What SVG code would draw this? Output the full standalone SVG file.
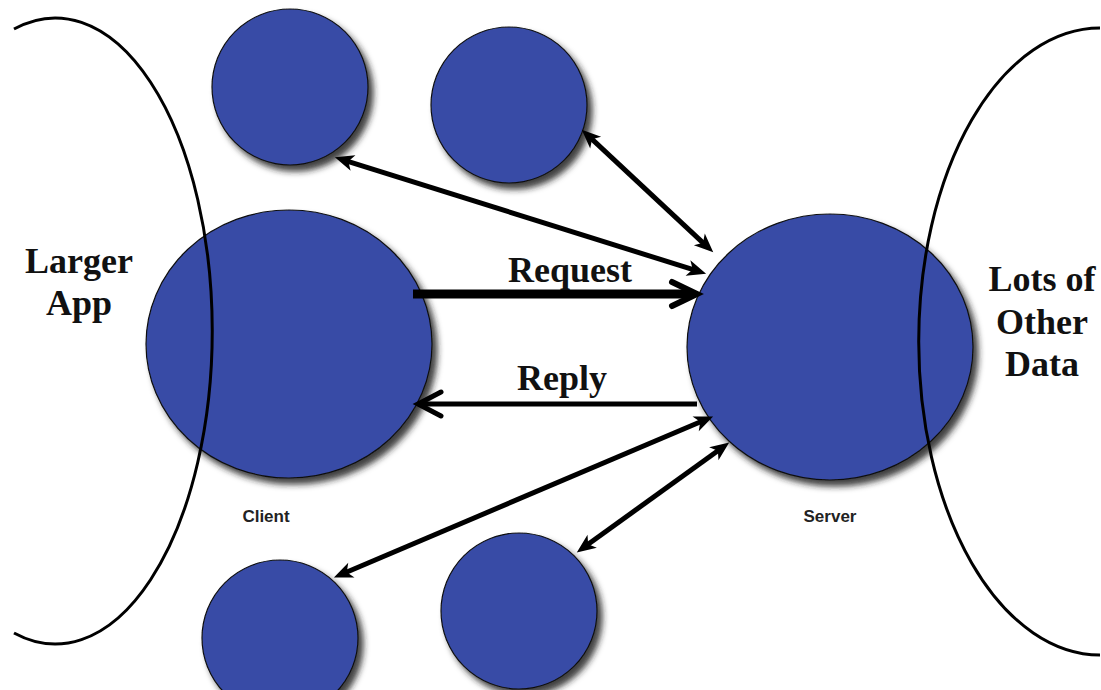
<svg xmlns="http://www.w3.org/2000/svg" width="1101" height="690" viewBox="0 0 1101 690">
  <style>
    .node { fill: #384ca6; stroke: #111; stroke-width: 1.2; filter: url(#shadow); }
    .bound { fill: none; stroke: #000; stroke-width: 3; }
    .big { font-family: "Liberation Serif", "Times New Roman", serif; font-weight: bold; font-size: 36px; fill: #111; text-anchor: middle; }
    .small { font-family: "Liberation Sans", Arial, sans-serif; font-weight: bold; font-size: 17px; fill: #222; text-anchor: middle; }
    .link { stroke: #000; stroke-width: 5; fill: none; }
  </style>
  <defs>
    <filter id="shadow" x="-20%" y="-20%" width="150%" height="150%">
      <feDropShadow dx="5" dy="6" stdDeviation="3" flood-color="#1e1e1e" flood-opacity="0.85"/>
    </filter>
    <!-- filled stealth head used by the two-way links -->
    <marker id="head" markerUnits="userSpaceOnUse" markerWidth="24" markerHeight="18" refX="8" refY="8" orient="auto-start-reverse" overflow="visible">
      <path d="M0,0 L19,8 L0,16 L5,8 z" fill="#000"/>
    </marker>
    <!-- open chevron heads for request / reply -->
    <marker id="chevBig" markerUnits="userSpaceOnUse" markerWidth="32" markerHeight="30" refX="23" refY="14" orient="auto" overflow="visible">
      <path d="M2,2 L27,14 L2,26" fill="none" stroke="#000" stroke-width="6" stroke-linecap="round"/>
    </marker>
    <marker id="chev" markerUnits="userSpaceOnUse" markerWidth="30" markerHeight="30" refX="22" refY="13" orient="auto" overflow="visible">
      <path d="M2,1 L25,13 L2,25" fill="none" stroke="#000" stroke-width="5" stroke-linecap="round"/>
    </marker>
  </defs>

  <rect width="1101" height="690" fill="#fff"/>

  <!-- nodes -->
  <g id="node-top-left"><circle class="node" cx="290" cy="87" r="78"/></g>
  <g id="node-top-mid"><circle class="node" cx="509" cy="105" r="78"/></g>
  <g id="node-bottom-left"><circle class="node" cx="280" cy="638" r="78"/></g>
  <g id="node-bottom-mid"><circle class="node" cx="519" cy="611" r="78"/></g>
  <g id="client">
    <ellipse class="node" cx="289" cy="344" rx="143" ry="134"/>
    <text class="small" x="266" y="522">Client</text>
  </g>
  <g id="server">
    <ellipse class="node" cx="830" cy="347" rx="143" ry="133"/>
    <text class="small" x="830" y="522">Server</text>
  </g>

  <!-- surrounding domains -->
  <g id="larger-app">
    <path class="bound" d="M14,29 A157,313 0 1 1 14,633"/>
    <text class="big" x="79" y="273">Larger</text>
    <text class="big" x="79" y="315">App</text>
  </g>
  <g id="other-data">
    <path class="bound" d="M1100,28 A181,313 0 0 0 1100,655"/>
    <text class="big" x="1042" y="291">Lots of</text>
    <text class="big" x="1042" y="334">Other</text>
    <text class="big" x="1042" y="376">Data</text>
  </g>

  <!-- connectors -->
  <g id="connectors">
    <line class="link" x1="345.4" y1="160.6" x2="695.6" y2="270.4" marker-start="url(#head)" marker-end="url(#head)"/>
    <line class="link" x1="589.8" y1="137.2" x2="705.2" y2="244.8" marker-start="url(#head)" marker-end="url(#head)"/>
    <line class="link" x1="344" y1="573.3" x2="703" y2="420.7" marker-start="url(#head)" marker-end="url(#head)"/>
    <line class="link" x1="585.7" y1="546" x2="720.3" y2="449" marker-start="url(#head)" marker-end="url(#head)"/>
    <line x1="413" y1="294" x2="693" y2="294" stroke="#000" stroke-width="9" marker-end="url(#chevBig)"/>
    <line x1="697" y1="404" x2="421" y2="404" stroke="#000" stroke-width="5" marker-end="url(#chev)"/>
    <text class="big" x="570" y="282">Request</text>
    <text class="big" x="562" y="390">Reply</text>
  </g>
</svg>
